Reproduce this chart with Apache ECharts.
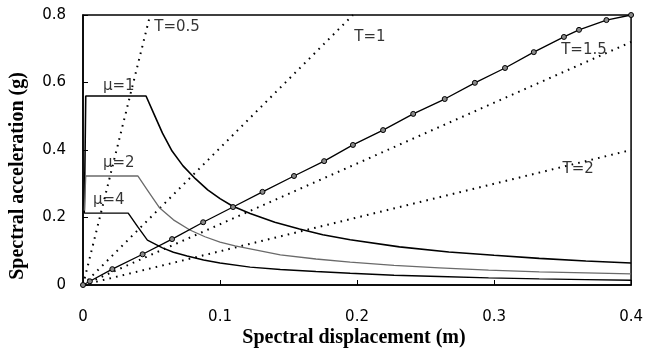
<!DOCTYPE html>
<html>
<head>
<meta charset="utf-8">
<script src="https://cdn.jsdelivr.net/npm/echarts@6/dist/echarts.min.js"></script>
<style>
html,body{margin:0;padding:0;background:#fff;}
#chart{width:646px;height:353px;}
</style>
</head>
<body>
<div id="chart"></div>
<script>
// Period lines (dotted): [Sd (m), Sa (g)]
var lineT05 = [[0, 0], [0.049, 0.8]];
var lineT1 = [[0, 0], [0.197, 0.8]];
var lineT15 = [[0, 0], [0.4, 0.72]];
var lineT2 = [[0, 0], [0.4, 0.4]];

// Capacity curve with markers
var capacity = [[0, 0], [0.005, 0.011], [0.0214, 0.047], [0.0435, 0.091], [0.065, 0.136], [0.0877, 0.186],
  [0.1095, 0.231], [0.131, 0.276], [0.154, 0.323], [0.176, 0.367], [0.197, 0.415], [0.219, 0.459],
  [0.241, 0.507], [0.264, 0.551], [0.286, 0.599], [0.308, 0.643], [0.329, 0.690], [0.351, 0.735],
  [0.362, 0.756], [0.382, 0.785], [0.4, 0.8]];

// Inelastic demand spectra
var mu1 = [[0.001, 0.22], [0.002, 0.56], [0.046, 0.56], [0.052, 0.505], [0.058, 0.45], [0.065, 0.397],
  [0.073, 0.353], [0.082, 0.315], [0.091, 0.282], [0.1, 0.256], [0.109, 0.234], [0.122, 0.212],
  [0.14, 0.186], [0.158, 0.166], [0.175, 0.149], [0.195, 0.134], [0.231, 0.113], [0.267, 0.098],
  [0.3, 0.088], [0.333, 0.079], [0.367, 0.071], [0.4, 0.065]];
var mu2 = [[0.001, 0.22], [0.002, 0.323], [0.040, 0.323], [0.047, 0.281], [0.056, 0.228], [0.066, 0.193],
  [0.078, 0.163], [0.089, 0.143], [0.1, 0.127], [0.111, 0.116], [0.122, 0.107], [0.144, 0.089],
  [0.17, 0.077], [0.195, 0.068], [0.227, 0.058], [0.26, 0.051], [0.296, 0.044], [0.333, 0.039],
  [0.367, 0.036], [0.4, 0.033]];
var mu4 = [[0.001, 0.22], [0.001, 0.213], [0.033, 0.213], [0.04, 0.172], [0.047, 0.133], [0.058, 0.110],
  [0.066, 0.097], [0.076, 0.086], [0.088, 0.074], [0.1, 0.065], [0.122, 0.053], [0.144, 0.046],
  [0.17, 0.04], [0.195, 0.035], [0.227, 0.029], [0.26, 0.025], [0.296, 0.021], [0.333, 0.018],
  [0.367, 0.016], [0.4, 0.014]];

// Text labels at data coordinates
var labelTexts = ['T=0.5', 'T=1', 'T=1.5', 'T=2', '\u03bc=1', '\u03bc=2', '\u03bc=4'];
var labelPos = [[0.052, 0.764], [0.198, 0.735], [0.349, 0.696], [0.35, 0.344], [0.0146, 0.59], [0.0146, 0.361], [0.0073, 0.252]];

var xTitle = 'Spectral displacement (m)';
var yTitle = 'Spectral acceleration (g)';

var chart = echarts.init(document.getElementById('chart'), null, {renderer: 'canvas'});

function dotted(data) {
  return {
    type: 'line', data: data, symbol: 'none', silent: true, animation: false,
    lineStyle: {color: '#000', width: 2, type: [1.6, 5.2]}
  };
}

var labelData = labelTexts.map(function (t, i) { return {name: t, value: labelPos[i]}; });

var option = {
  animation: false,
  backgroundColor: '#fff',
  grid: {left: 83, right: 14, top: 15, bottom: 68, show: true, borderColor: '#000', borderWidth: 1.5, backgroundColor: 'transparent'},
  xAxis: {
    type: 'value', min: 0, max: 0.4, interval: 0.1,
    axisLine: {show: true, onZero: false, lineStyle: {color: '#000', width: 1.5}},
    axisTick: {show: true, inside: true, length: 5, lineStyle: {color: '#000'}},
    axisLabel: {margin: 25, color: '#000', fontFamily: 'DejaVu Sans', fontSize: 15},
    splitLine: {show: false}
  },
  yAxis: {
    type: 'value', min: 0, max: 0.8, interval: 0.2,
    axisLine: {show: true, onZero: false, lineStyle: {color: '#000', width: 1.5}},
    axisTick: {show: true, inside: true, length: 5, lineStyle: {color: '#000'}},
    axisLabel: {margin: 17, color: '#000', fontFamily: 'DejaVu Sans', fontSize: 15},
    splitLine: {show: false}
  },
  graphic: [
    {type: 'text', x: 354, y: 338, style: {text: xTitle, font: 'bold 20px "Liberation Serif"', fill: '#000', textAlign: 'center', textVerticalAlign: 'middle'}},
    {type: 'text', x: 18, y: 176, rotation: Math.PI / 2, style: {text: yTitle, font: 'bold 20px "Liberation Serif"', fill: '#000', textAlign: 'center', textVerticalAlign: 'middle'}}
  ],
  series: [
    dotted(lineT05), dotted(lineT1), dotted(lineT15), dotted(lineT2),
    {type: 'line', data: mu1, symbol: 'none', lineStyle: {color: '#000', width: 1.6}},
    {type: 'line', data: mu2, symbol: 'none', lineStyle: {color: '#6a6a6a', width: 1.3}},
    {type: 'line', data: mu4, symbol: 'none', lineStyle: {color: '#000', width: 1.4}},
    {type: 'line', data: capacity, symbol: 'circle', symbolSize: 5, showAllSymbol: true,
      lineStyle: {color: '#000', width: 1.3},
      itemStyle: {color: '#8a8a8a', borderColor: '#000', borderWidth: 1}},
    {type: 'scatter', data: labelData, symbolSize: 0, silent: true,
      label: {show: true, position: 'right', distance: 0, formatter: '{b}', color: '#000', fontFamily: 'DejaVu Sans', fontSize: 15}}
  ]
};
chart.setOption(option);
</script>
</body>
</html>
